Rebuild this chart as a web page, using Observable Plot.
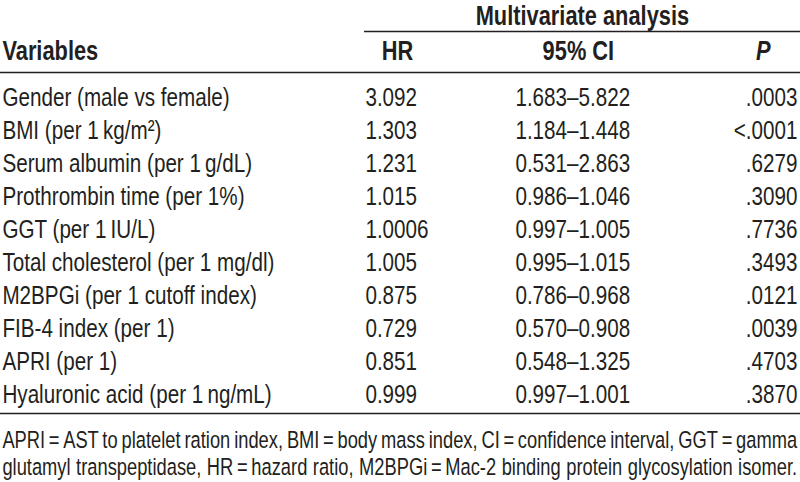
<!DOCTYPE html>
<html>
<head>
<meta charset="utf-8">
<script src="https://cdn.jsdelivr.net/npm/d3@7"></script>
<script src="https://cdn.jsdelivr.net/npm/@observablehq/plot@0.6"></script>
<style>
  html, body { margin: 0; padding: 0; background: #fff; }
  #chart { width: 800px; height: 482px; overflow: hidden; }
</style>
</head>
<body>
<div id="chart"></div>
<script>
// ---- data ----
const variables = [
  "Gender (male vs female)",
  "BMI (per 1\u2009kg/m²)",
  "Serum albumin (per 1\u2009g/dL)",
  "Prothrombin time (per 1%)",
  "GGT (per 1\u2009IU/L)",
  "Total cholesterol (per 1 mg/dl)",
  "M2BPGi (per 1 cutoff index)",
  "FIB-4 index (per 1)",
  "APRI (per 1)",
  "Hyaluronic acid (per 1\u2009ng/mL)"
];
const hr = ["3.092", "1.303", "1.231", "1.015", "1.0006", "1.005", "0.875", "0.729", "0.851", "0.999"];
const ci = ["1.683–5.822", "1.184–1.448", "0.531–2.863", "0.986–1.046", "0.997–1.005", "0.995–1.015", "0.786–0.968", "0.570–0.908", "0.548–1.325", "0.997–1.001"];
const pValues = [".0003", "<.0001", ".6279", ".3090", ".7736", ".3493", ".0121", ".0039", ".4703", ".3870"];
const spanHeader = "Multivariate analysis";
const colHeaders = ["Variables", "HR", "95% CI", "P"];
const footnoteLines = [
  "APRI\u2009=\u2009AST to platelet ration index, BMI\u2009=\u2009body mass index, CI\u2009=\u2009confidence interval, GGT\u2009=\u2009gamma",
  "glutamyl transpeptidase, HR\u2009=\u2009hazard ratio, M2BPGi\u2009=\u2009Mac-2 binding protein glycosylation isomer."
];

// ---- layout ----
const W = 800, H = 482;
const squeeze = 0.78;              // condensed type: horizontal compression
const Wv = Math.round(W / squeeze);
const font = `"Liberation Sans", Arial, sans-serif`;
const ink = "#231f20";
const rows = variables.map((v, i) => ({v, hr: hr[i], ci: ci[i], p: pValues[i]}));
const rowY = d3.scalePoint().domain(variables).range([97, 394]);
const fs = 26.5, fsBold = 28, fsFoot = 23.5;
const footY = d3.scalePoint().domain(footnoteLines).range([440, 467]);

const plot = Plot.plot({
  width: Wv, height: H,
  margin: 0,
  x: {domain: [0, W], range: [0, Wv], axis: null},
  y: {domain: [0, H], range: [0, H], axis: null},
  style: {fontFamily: font, color: ink, background: "#fff"},
  marks: [
    // rules
    Plot.ruleY([31], {x1: 364, x2: 800, stroke: ink, strokeWidth: 1.3}),
    Plot.ruleY([72, 413], {x1: 0, x2: 800, stroke: ink, strokeWidth: 1.6}),
    // headers
    Plot.text([spanHeader], {x: 582, y: 16, text: d => d, fontWeight: "bold", fontSize: fsBold, fill: ink}),
    Plot.text([colHeaders[0]], {x: 2, y: 51, text: d => d, textAnchor: "start", fontWeight: "bold", fontSize: fsBold, fill: ink}),
    Plot.text([colHeaders[1]], {x: 397, y: 51, text: d => d, fontWeight: "bold", fontSize: fsBold, fill: ink}),
    Plot.text([colHeaders[2]], {x: 578, y: 51, text: d => d, fontWeight: "bold", fontSize: fsBold, fill: ink}),
    Plot.text([colHeaders[3]], {x: 763, y: 51, text: d => d, fontWeight: "bold", fontStyle: "italic", fontSize: fsBold, fill: ink}),
    // body
    Plot.text(rows, {x: () => 2, y: d => rowY(d.v), text: "v", textAnchor: "start", fontSize: fs, fill: ink}),
    Plot.text(rows, {x: () => 365, y: d => rowY(d.v), text: "hr", textAnchor: "start", fontSize: fs, fill: ink}),
    Plot.text(rows, {x: () => 515, y: d => rowY(d.v), text: "ci", textAnchor: "start", fontSize: fs, fill: ink}),
    Plot.text(rows, {x: () => 797, y: d => rowY(d.v), text: "p", textAnchor: "end", fontSize: fs, fill: ink}),
    // footnote
    Plot.text(footnoteLines, {x: () => 2, y: d => footY(d), text: d => d, textAnchor: "start", fontSize: fsFoot, fill: ink})
  ]
});
plot.setAttribute("preserveAspectRatio", "none");
plot.style.width = W + "px";
plot.style.height = H + "px";
plot.style.maxWidth = "none";
document.getElementById("chart").appendChild(plot);

// justify the footnote lines across the full width (word spacing)
const target = (797 - 2) / squeeze;
d3.select(plot).selectAll("text").each(function () {
  if (!footnoteLines.includes(this.textContent)) return;
  const len = this.getComputedTextLength();
  const spaces = (this.textContent.match(/ /g) || []).length;
  if (spaces > 0) this.setAttribute("word-spacing", ((target - len) / spaces).toFixed(2));
});
</script>
</body>
</html>
